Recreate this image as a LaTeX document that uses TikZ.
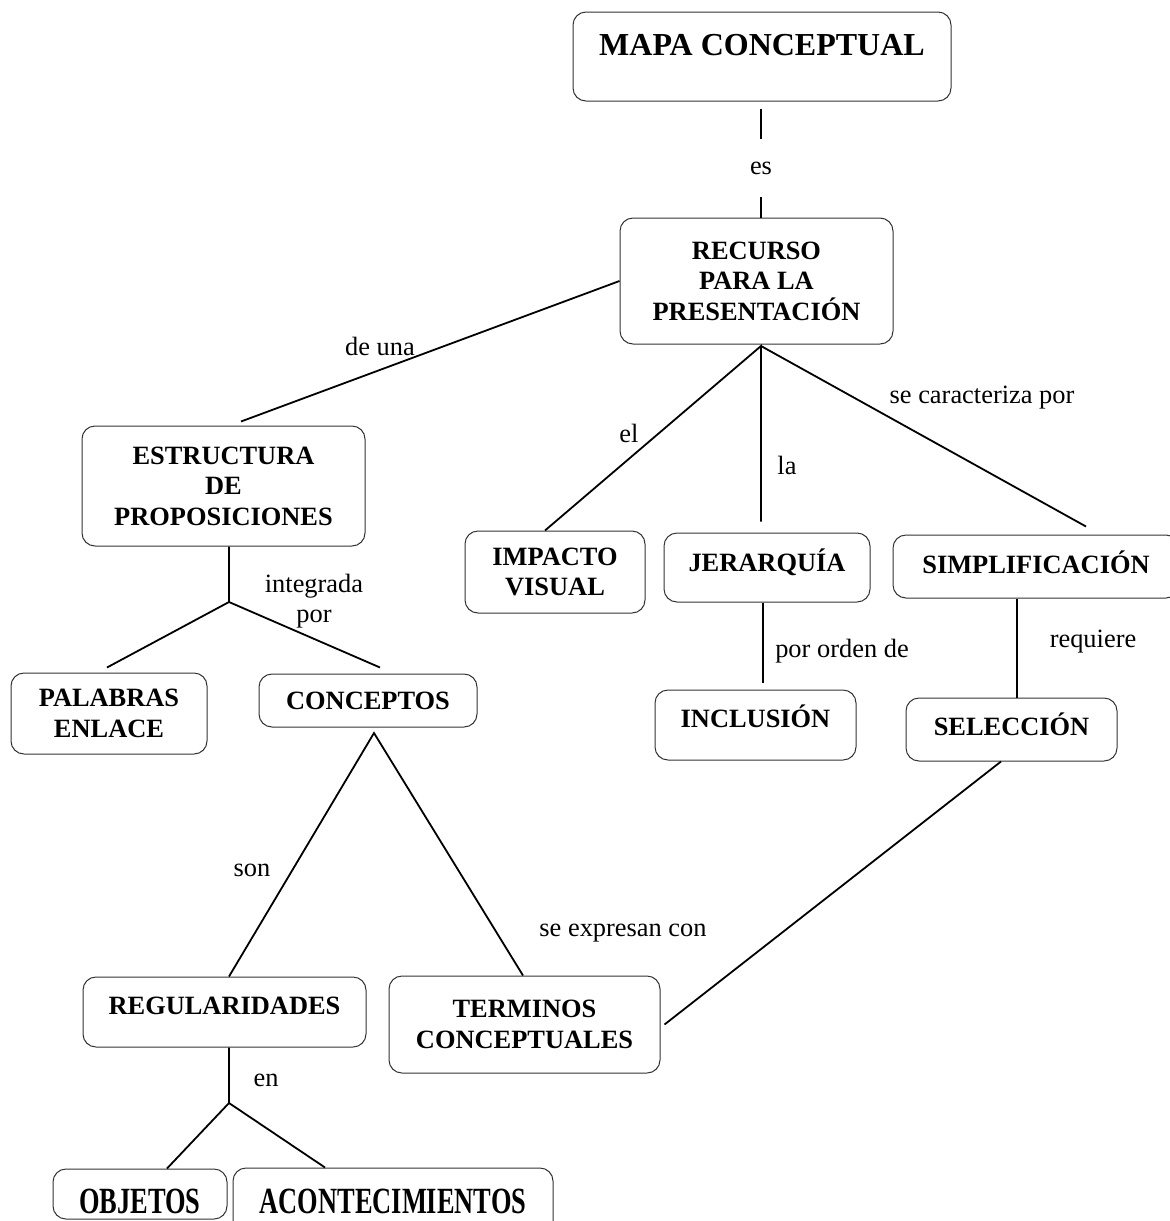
\documentclass[tikz,border=0pt]{standalone}
\usepackage{fontspec}
\setmainfont{Liberation Serif}

\begin{document}
\begin{tikzpicture}[x=1pt,y=-1pt,
  concepto/.style={draw=black!80,line width=1pt,rounded corners=13pt,inner sep=0pt,align=center,font=\fontsize{26.4}{30.5}\selectfont\bfseries},
  enlace/.style={inner sep=0pt,align=center,font=\fontsize{26.4}{30}\selectfont},
  linea/.style={line width=1.8pt}]
  \useasboundingbox (0,0) rectangle (1170,1221);
  \clip (0,0) rectangle (1170,1221);
  % conceptos
  \node[concepto,minimum width=378pt,minimum height=89pt,text height=22pt,text depth=25pt,font=\fontsize{32}{36}\selectfont\bfseries] (mapa) at (762,56.5) {MAPA CONCEPTUAL};
  \node[concepto,minimum width=273pt,minimum height=126pt] (recurso) at (756.5,281) {RECURSO\\PARA LA\\PRESENTACIÓN};
  \node[concepto,minimum width=283pt,minimum height=120pt] (estructura) at (223.5,486) {ESTRUCTURA\\DE\\PROPOSICIONES};
  \node[concepto,minimum width=196pt,minimum height=81pt] (palabras) at (109,713.5) {PALABRAS\\ENLACE};
  \node[concepto,minimum width=218pt,minimum height=53pt,text height=20pt,text depth=3pt] (conceptos) at (368,700.5) {CONCEPTOS};
  \node[concepto,minimum width=283pt,minimum height=70pt,text height=20pt,text depth=16pt] (regularidades) at (224.5,1012) {REGULARIDADES};
  \node[concepto,minimum width=271pt,minimum height=97pt] (terminos) at (524.5,1024.5) {TERMINOS\\CONCEPTUALES};
  \node[concepto,minimum width=174pt,minimum height=50pt,text height=40pt,text depth=2pt] (objetos) at (140,1194) {\scalebox{1}[1.4]{OBJETOS}};
  \node[concepto,minimum width=320pt,minimum height=80pt,text height=20pt,text depth=10pt] (acontecimientos) at (393,1208) {\scalebox{1}[1.4]{ACONTECIMIENTOS}};
  \node[concepto,minimum width=180pt,minimum height=82pt] (impacto) at (555,572) {IMPACTO\\VISUAL};
  \node[concepto,minimum width=206pt,minimum height=69pt,text height=20pt,text depth=13pt] (jerarquia) at (767,567.5) {JERARQUÍA};
  \node[concepto,minimum width=286pt,minimum height=63pt,text height=20pt,text depth=7pt] (simplificacion) at (1036,566.5) {SIMPLIFICACIÓN};
  \node[concepto,minimum width=201pt,minimum height=70pt,text height=20pt,text depth=16pt] (inclusion) at (755.5,725) {INCLUSIÓN};
  \node[concepto,minimum width=211pt,minimum height=63pt,text height=20pt,text depth=9pt] (seleccion) at (1011.5,729.5) {SELECCIÓN};
  % palabras de enlace
  \node[enlace,minimum height=58pt] (es) at (761,168) {es};
  \node[enlace] (deuna) at (380,346) {de una};
  \node[enlace] (integrada) at (314,601) {integrada\\por};
  \node[enlace] (son) at (252,870) {son};
  \node[enlace] (expresan) at (623,933) {se expresan con};
  \node[enlace] (en) at (266,1080) {en};
  \node[enlace] (el) at (629,433) {el};
  \node[enlace] (la) at (787,465) {la};
  \node[enlace] (caracteriza) at (982,398) {se caracteriza por};
  \node[enlace] (orden) at (842,651) {por orden de};
  \node[enlace] (requiere) at (1093,642) {requiere};
  % puntos de union
  \coordinate (r0) at (761,346);
  \coordinate (e0) at (229,602);
  \coordinate (c0) at (374,733);
  \coordinate (g0) at (229,1103);
  % lineas
  \draw[linea,shorten <=7pt] (es |- mapa.south) -- (es.north);
  \draw[linea] (es.south) -- (es |- recurso.north);
  \draw[linea] (recurso.west) -- ([shift={(17.5pt,4pt)}]estructura.north);
  \draw[linea] (e0 |- estructura.south) -- (e0) -- ([shift={(-2pt,5pt)}]palabras.north);
  \draw[linea] (e0) -- ([shift={(12pt,6pt)}]conceptos.north);
  \draw[linea] ([xshift=4.5pt]regularidades.north) -- (c0) -- ([xshift=-1.5pt]terminos.north);
  \draw[linea] (g0 |- regularidades.south) -- (g0) -- ([xshift=27pt]objetos.north);
  \draw[linea] (g0) -- ([xshift=-68pt]acontecimientos.north);
  \draw[linea] ([xshift=-10pt]impacto.north) -- (r0) -- ([shift={(-6pt,11pt)}]jerarquia.north);
  \draw[linea] (r0) -- ([shift={(50pt,8pt)}]simplificacion.north);
  \draw[linea] ([xshift=-4pt]jerarquia.south) -- ([shift={(7.5pt,7pt)}]inclusion.north);
  \draw[linea] ([xshift=-19pt]simplificacion.south) -- ([xshift=5.5pt]seleccion.north);
  \draw[linea] ([xshift=-10.5pt]seleccion.south) -- ([xshift=4pt]terminos.east);
\end{tikzpicture}
\end{document}
